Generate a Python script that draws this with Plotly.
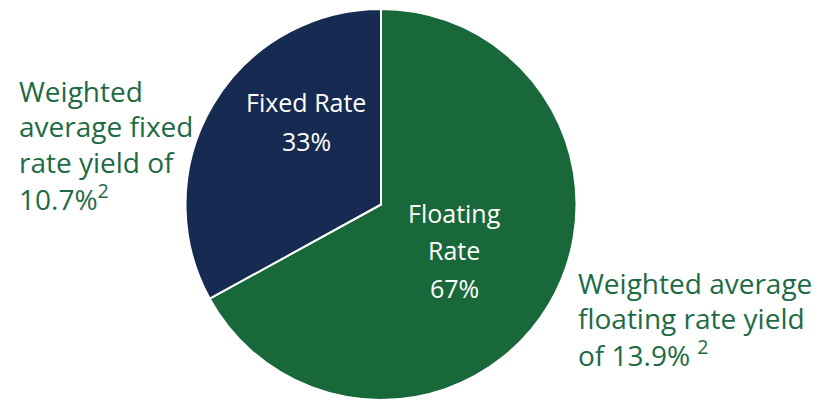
import plotly.graph_objects as go

labels = ["Floating Rate", "Fixed Rate"]
values = [67, 33]
colors = ["#19683a", "#172b52"]
label_lines = [["Floating", "Rate"], ["Fixed Rate"]]
yield_notes = [["Weighted average", "floating rate yield", "of 13.9% <sup>2</sup>"],
               ["Weighted", "average fixed", "rate yield of", "10.7%<sup>2</sup>"]]

W, H = 815, 400
cx, cy, r = 381, 205, 196

fig = go.Figure(go.Pie(
    labels=labels, values=values, sort=False, direction="clockwise",
    rotation=0, marker=dict(colors=colors, line=dict(color="white", width=2)),
    textinfo="none", hoverinfo="label+percent", showlegend=False,
    domain=dict(x=[(cx - r) / W, (cx + r) / W],
                y=[max(0, (H - cy - r) / H), (H - cy + r) / H]),
))

font = "Open Sans, Noto Sans, sans-serif"


def add_line(text, px, baseline, size, color, anchor):
    yc = baseline - 0.33 * size
    fig.add_annotation(x=px / W, y=1 - yc / H, xref="paper", yref="paper",
                       text=text, showarrow=False,
                       font=dict(color=color, size=size, family=font),
                       xanchor=anchor, yanchor="middle", align=anchor)


# inside labels: (center x, first baseline, spacing)
inside_pos = [(454, 221, 37.5), (306, 110, 39)]
for lines, v, (px, b0, sp) in zip(label_lines, values, inside_pos):
    for i, t in enumerate(lines + [f"{v}%"]):
        add_line(t, px, b0 + i * sp, 25, "white", "center")

note_pos = [(576, 292, 35.3), (17, 100, 35.6)]
for lines, (px, b0, sp) in zip(yield_notes, note_pos):
    for i, t in enumerate(lines):
        add_line(t, px, b0 + i * sp, 28, "#1d6b45", "left")

fig.update_layout(width=W, height=H, margin=dict(l=0, r=0, t=0, b=0),
                  paper_bgcolor="white", plot_bgcolor="white")
fig.write_html("out.html")
